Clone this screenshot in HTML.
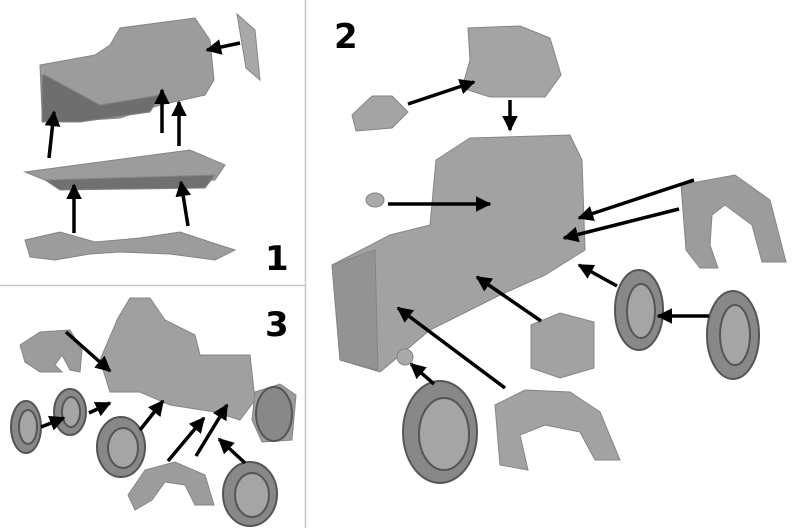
<!DOCTYPE html>
<html><head><style>html,body{margin:0;background:#fff;overflow:hidden}svg{display:block}</style></head><body>
<svg width="800" height="528" viewBox="0 0 800 528" xmlns="http://www.w3.org/2000/svg">
<defs>
<marker id="a" viewBox="0 0 10 10" refX="9" refY="5" markerWidth="4.5" markerHeight="4.5" orient="auto"><path d="M0,0L10,5L0,10z" fill="#000"/></marker>
</defs>
<rect width="800" height="528" fill="#fff"/>
<line x1="305.5" y1="0" x2="305.5" y2="528" stroke="#c8c8c8" stroke-width="1.5"/>
<line x1="0" y1="285.5" x2="305" y2="285.5" stroke="#c8c8c8" stroke-width="1.5"/>
<g font-family="'DejaVu Sans','Liberation Sans',sans-serif" font-weight="bold" font-size="34" fill="#000">
<text x="265" y="270">1</text><text x="334" y="48">2</text><text x="265" y="336">3</text></g>
<g fill="#9c9c9c" stroke="#858585" stroke-width="1">
<!-- panel 1 -->
<polygon points="40,65 95,55 110,45 120,28 195,18 210,40 214,80 205,95 160,105 120,118 60,122 42,112"/>
<polygon points="42,75 42,122 80,122 150,112 160,95 100,105 45,75" fill="#6e6e6e"/>
<polygon points="237,14 255,30 260,80 246,68" fill="#a8a8a8"/>
<polygon points="25,172 190,150 225,165 215,180 80,188 45,180"/>
<polygon points="45,180 215,175 205,188 60,190" fill="#707070"/>
<polygon points="25,240 60,232 95,242 140,238 180,232 210,242 235,250 215,260 170,254 120,252 90,254 55,260 30,257"/>
<!-- panel 2 -->
<polygon points="470,60 468,28 520,26 550,38 561,75 545,97 490,97 462,88" fill="#a4a4a4"/>
<polygon points="352,115 372,96 392,96 408,112 392,128 356,131" fill="#a4a4a4"/>
<ellipse cx="375" cy="200" rx="9" ry="7" fill="#aaa"/>
<polygon points="436,160 470,138 570,135 582,160 585,250 545,275 500,295 430,330 380,372 340,360 332,265 390,235 430,225" fill="#a2a2a2"/>
<polygon points="332,265 375,250 378,370 340,360" fill="#939393"/>
<polygon points="681,185 735,175 770,200 786,262 762,262 752,225 725,205 712,215 710,245 718,268 700,268 686,250"/>
<polygon points="531,325 560,313 594,322 594,368 560,378 531,368" fill="#a2a2a2"/>
<polygon points="495,405 525,390 570,392 600,412 620,460 595,460 580,432 545,425 520,435 528,470 500,465" fill="#a2a2a2"/>
<ellipse cx="405" cy="357" rx="8" ry="8" fill="#aaa"/>
<!-- panel 3 -->
<polygon points="20,345 40,332 70,330 82,350 80,372 70,370 62,355 55,365 62,372 40,372 25,362"/>
<polygon points="118,318 130,298 150,298 165,320 195,335 200,355 250,355 255,400 240,420 215,412 170,405 140,392 110,392 100,360" fill="#a0a0a0"/>
<polygon points="255,392 280,384 296,395 292,440 262,442 252,420"/>
<polygon points="128,495 145,470 175,462 205,475 214,505 195,505 185,485 165,482 152,500 135,510"/>
</g>
<g fill="#888" stroke="#555" stroke-width="2">
<ellipse cx="639" cy="310" rx="24" ry="40"/><ellipse cx="641" cy="311" rx="14" ry="27" fill="#a5a5a5"/>
<ellipse cx="733" cy="335" rx="26" ry="44"/><ellipse cx="735" cy="335" rx="15" ry="30" fill="#a5a5a5"/>
<ellipse cx="440" cy="432" rx="37" ry="51"/><ellipse cx="444" cy="434" rx="25" ry="36" fill="#a5a5a5"/>
<ellipse cx="26" cy="427" rx="15" ry="26"/><ellipse cx="28" cy="427" rx="9" ry="17" fill="#a5a5a5"/>
<ellipse cx="70" cy="412" rx="16" ry="23"/><ellipse cx="71" cy="412" rx="9" ry="15" fill="#a5a5a5"/>
<ellipse cx="121" cy="447" rx="24" ry="30"/><ellipse cx="123" cy="448" rx="15" ry="20" fill="#a5a5a5"/>
<ellipse cx="250" cy="494" rx="27" ry="32"/><ellipse cx="252" cy="495" rx="17" ry="22" fill="#a5a5a5"/>
<ellipse cx="274" cy="414" rx="18" ry="27"/>
</g>
<g stroke="#000" stroke-width="3.5" fill="none" marker-end="url(#a)">
<line x1="240" y1="43" x2="207" y2="50"/>
<line x1="49" y1="158" x2="54" y2="112"/>
<line x1="162" y1="133" x2="162" y2="90"/>
<line x1="179" y1="146" x2="179" y2="102"/>
<line x1="74" y1="233" x2="74" y2="185"/>
<line x1="188" y1="226" x2="181" y2="182"/>
<line x1="408" y1="104" x2="474" y2="82"/>
<line x1="510" y1="100" x2="510" y2="130"/>
<line x1="388" y1="204" x2="490" y2="204"/>
<line x1="694" y1="180" x2="579" y2="218"/>
<line x1="679" y1="209" x2="564" y2="238"/>
<line x1="617" y1="286" x2="579" y2="265"/>
<line x1="709" y1="316" x2="658" y2="316"/>
<line x1="541" y1="321" x2="477" y2="277"/>
<line x1="505" y1="388" x2="398" y2="308"/>
<line x1="434" y1="384" x2="411" y2="364"/>
<line x1="66" y1="332" x2="110" y2="371"/>
<line x1="41" y1="427" x2="64" y2="418"/>
<line x1="89" y1="413" x2="110" y2="403"/>
<line x1="140" y1="430" x2="163" y2="401"/>
<line x1="168" y1="461" x2="204" y2="418"/>
<line x1="196" y1="456" x2="227" y2="405"/>
<line x1="245" y1="463" x2="219" y2="439"/>
</g>
</svg>
</body></html>
